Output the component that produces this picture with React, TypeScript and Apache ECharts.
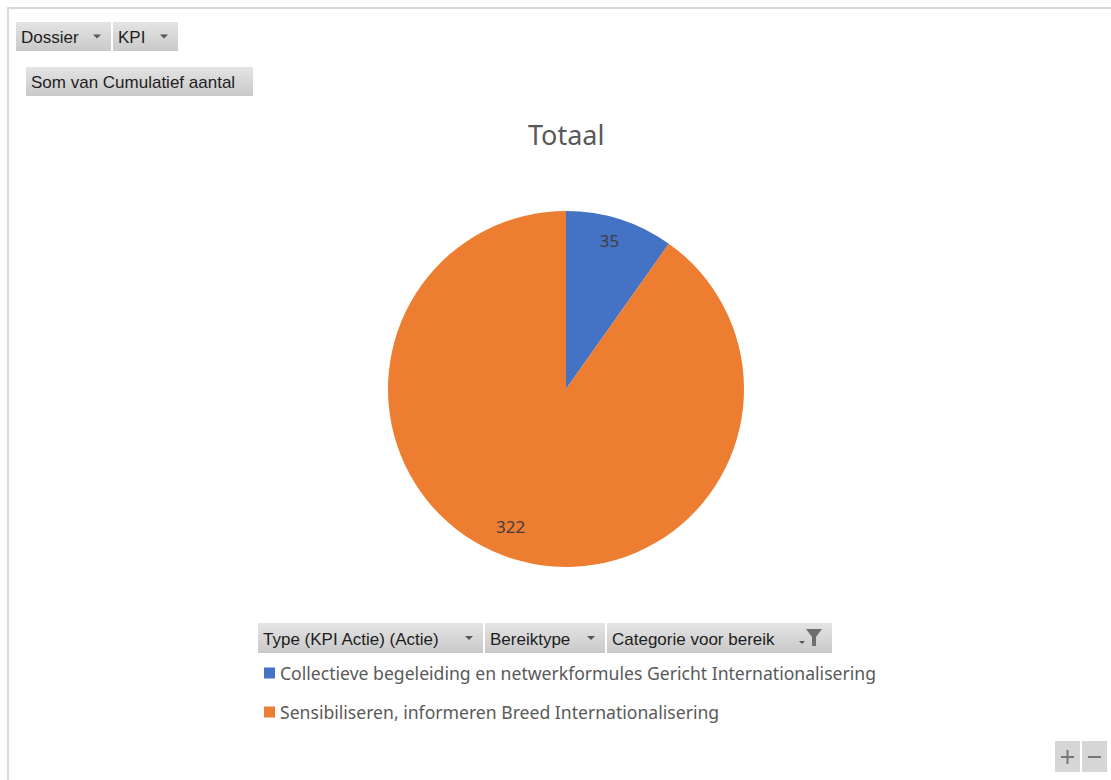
import React, { useEffect, useRef } from "react";
import * as echarts from "echarts";

const titleText = "Totaal";
const categories = [
  "Collectieve begeleiding en netwerkformules Gericht Internationalisering",
  "Sensibiliseren, informeren Breed Internationalisering",
];
const values = [35, 322];
const colors = ["#4472C4", "#ED7D31"];
const topButtons = ["Dossier", "KPI"];
const valueButton = "Som van Cumulatief aantal";
const axisButtons = ["Type (KPI Actie) (Actie)", "Bereiktype", "Categorie voor bereik"];

const BTN_FONT = "'Liberation Sans', sans-serif";
const CHART_FONT = "'Noto Sans', sans-serif";

function button(x: number, y: number, w: number, h: number, label: string, icon: "arrow" | "filter" | "none") {
  const children: any[] = [
    {
      type: "rect",
      shape: { x, y, width: w, height: h },
      style: {
        fill: new echarts.graphic.LinearGradient(0, 0, 0, 1, [
          { offset: 0, color: "#e4e4e4" },
          { offset: 1, color: "#c9c9c9" },
        ]),
      },
    },
    {
      type: "text",
      x: x + 5,
      y: y + h / 2 + 1,
      style: { text: label, fill: "#1e1e1e", font: `17px ${BTN_FONT}`, verticalAlign: "middle", align: "left" },
    },
  ];
  if (icon === "arrow") {
    const ax = x + w - 14;
    const ay = y + h / 2;
    children.push({
      type: "polygon",
      shape: { points: [[ax - 4, ay - 2], [ax + 4, ay - 2], [ax, ay + 2]] },
      style: { fill: "#555" },
    });
  } else if (icon === "filter") {
    const fx = x + w - 18;
    const fy = y + h / 2;
    children.push({
      type: "polygon",
      shape: { points: [[fx - 8, fy - 9], [fx + 8, fy - 9], [fx + 2, fy - 1], [fx + 2, fy + 8], [fx - 2, fy + 8], [fx - 2, fy - 1]] },
      style: { fill: "#6e6e6e" },
    });
    children.push({
      type: "polygon",
      shape: { points: [[fx - 15, fy + 3], [fx - 9, fy + 3], [fx - 12, fy + 6]] },
      style: { fill: "#555" },
    });
  }
  return { type: "group", children };
}

export default function App() {
  const ref = useRef<HTMLDivElement>(null);
  useEffect(() => {
    if (!ref.current) return;
    const chart = echarts.init(ref.current, undefined, { renderer: "svg" });
    const labelOffsets = [[-3, -3], [-9, -8]];
    const option: any = {
      animation: false,
      backgroundColor: "#ffffff",
      title: {
        text: titleText,
        left: 528,
        top: 121,
        padding: 0,
        textStyle: { fontFamily: CHART_FONT, fontSize: 27, fontWeight: "normal", color: "#595959" },
      },
      legend: {
        orient: "vertical",
        left: 264,
        top: 664,
        padding: 0,
        icon: "rect",
        itemWidth: 11,
        itemHeight: 11,
        itemGap: 21,
        data: categories,
        selectedMode: false,
        textStyle: { fontFamily: CHART_FONT, fontSize: 17.6, color: "#595959", lineHeight: 18 },
      },
      series: [
        {
          type: "pie",
          center: [566, 389],
          radius: [0, 178],
          startAngle: 90,
          clockwise: true,
          silent: true,
          label: { show: false },
          labelLine: { show: false },
          data: categories.map((c, i) => ({ name: c, value: values[i], itemStyle: { color: colors[i] } })),
        },
        {
          type: "pie",
          center: [566, 389],
          radius: [122, 178],
          startAngle: 90,
          clockwise: true,
          silent: true,
          itemStyle: { color: "rgba(0,0,0,0)" },
          label: {
            show: true,
            position: "inside",
            formatter: (p: any) => String(p.value),
            fontFamily: CHART_FONT,
            fontSize: 17,
            color: "#404040",
          },
          labelLine: { show: false },
          data: categories.map((c, i) => ({
            name: c,
            value: values[i],
            label: { offset: labelOffsets[i] },
            itemStyle: { color: "rgba(0,0,0,0)" },
          })),
        },
      ],
      graphic: [
        { type: "line", shape: { x1: 7, y1: 8, x2: 1111, y2: 8 }, style: { stroke: "#d9d9d9", lineWidth: 2 } },
        { type: "line", shape: { x1: 8, y1: 7, x2: 8, y2: 780 }, style: { stroke: "#d9d9d9", lineWidth: 2 } },
        button(16, 22, 95, 29, topButtons[0], "arrow"),
        button(113, 22, 65, 29, topButtons[1], "arrow"),
        button(26, 67, 227, 29, valueButton, "none"),
        button(258, 623, 225, 30, axisButtons[0], "arrow"),
        button(485, 623, 120, 30, axisButtons[1], "arrow"),
        button(607, 623, 225, 30, axisButtons[2], "filter"),
        {
          type: "rect",
          shape: { x: 1055, y: 741, width: 25, height: 31 },
          style: { fill: "#d6d6d6" },
        },
        {
          type: "rect",
          shape: { x: 1082, y: 741, width: 25, height: 31 },
          style: { fill: "#d6d6d6" },
        },
        { type: "line", shape: { x1: 1061, y1: 757, x2: 1074, y2: 757 }, style: { stroke: "#777", lineWidth: 2 } },
        { type: "line", shape: { x1: 1067.5, y1: 750, x2: 1067.5, y2: 764 }, style: { stroke: "#777", lineWidth: 2 } },
        { type: "line", shape: { x1: 1088, y1: 757, x2: 1101, y2: 757 }, style: { stroke: "#777", lineWidth: 2 } },
      ],
    };
    chart.setOption(option);
    return () => chart.dispose();
  }, []);
  return <div ref={ref} style={{ position: "fixed", left: 0, top: 0, width: 1111, height: 780 }} />;
}
